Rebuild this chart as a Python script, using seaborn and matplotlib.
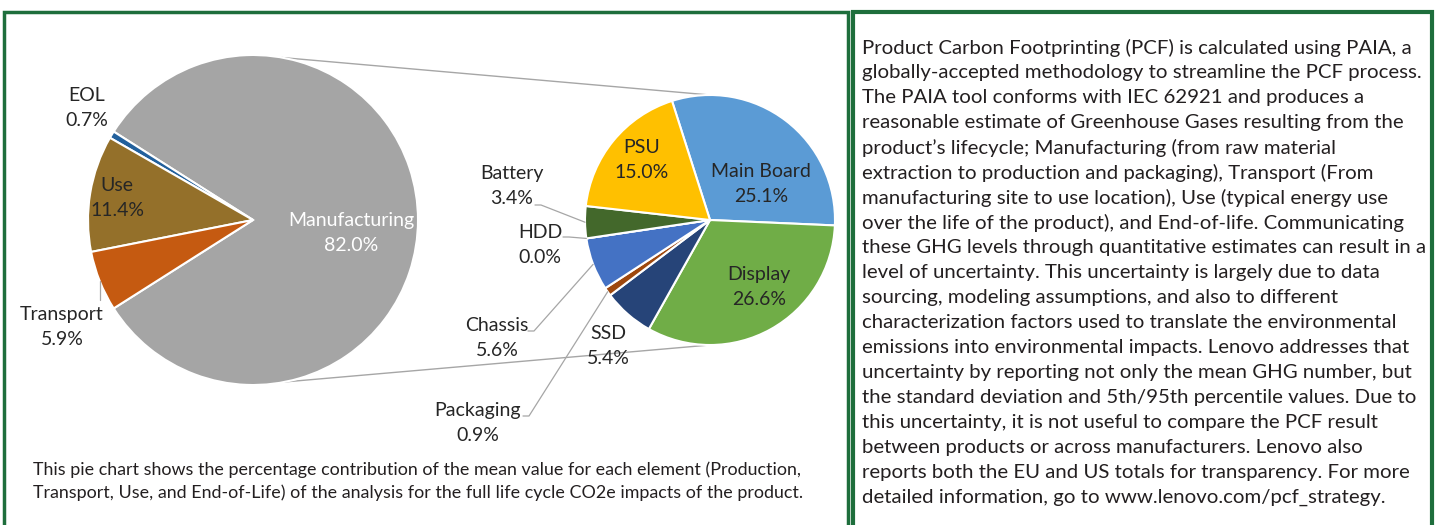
"""Lifecycle CO2e pie-of-pie with PCF note."""
import matplotlib
matplotlib.use('Agg')  # Non-interactive backend
import matplotlib.pyplot as plt
import numpy as np
import seaborn as sns

# share of total CO2e per life cycle stage (%)
stages = ["Manufacturing", "EOL", "Use", "Transport"]
stage_pct = [82.0, 0.7, 11.4, 5.9]
stage_colors = ["#A5A5A5", "#22609C", "#94702A", "#C55A11"]

# manufacturing broken down by part (% of total)
parts = ["Main Board", "Display", "SSD", "Packaging", "Chassis", "HDD", "Battery", "PSU"]
part_pct = [25.1, 26.6, 5.4, 0.9, 5.6, 0.0, 3.4, 15.0]
part_colors = ["#5B9BD5", "#70AD47", "#264478", "#9E480E", "#4472C4", "#636363", "#43682B", "#FFC000"]

caption = [
    "This pie chart shows the percentage contribution of the mean value for each element (Production,",
    "Transport, Use, and End-of-Life) of the analysis for the full life cycle CO2e impacts of the product.",
]
note = [
    "Product Carbon Footprinting (PCF) is calculated using PAIA, a",
    "globally-accepted methodology to streamline the PCF process.",
    "The PAIA tool conforms with IEC 62921 and produces a",
    "reasonable estimate of Greenhouse Gases resulting from the",
    "product\u2019s lifecycle; Manufacturing (from raw material",
    "extraction to production and packaging), Transport (From",
    "manufacturing site to use location), Use (typical energy use",
    "over the life of the product), and End-of-life. Communicating",
    "these GHG levels through quantitative estimates can result in a",
    "level of uncertainty. This uncertainty is largely due to data",
    "sourcing, modeling assumptions, and also to different",
    "characterization factors used to translate the environmental",
    "emissions into environmental impacts. Lenovo addresses that",
    "uncertainty by reporting not only the mean GHG number, but",
    "the standard deviation and 5th/95th percentile values. Due to",
    "this uncertainty, it is not useful to compare the PCF result",
    "between products or across manufacturers. Lenovo also",
    "reports both the EU and US totals for transparency. For more",
    "detailed information, go to www.lenovo.com/pcf_strategy.",
]

sns.set_theme(style="white")
plt.rcParams['font.family'] = ['Lato', 'DejaVu Sans']

W, H = 1435, 525
fig = plt.figure(figsize=(W / 100, H / 100), dpi=100)
ax = fig.add_axes([0, 0, 1, 1])

def P(x, y):
    # pixel (top-left origin) -> data coords
    return x, H - y

GREEN = "#1E6E3C"
LINE = "#A6A6A6"
TXT = "#262626"

# main pie
c1, r1 = (253, 220), 165
start1 = -stage_pct[0] / sum(stage_pct) * 180
w1, _ = ax.pie(stage_pct, colors=stage_colors, center=P(*c1), radius=r1,
               startangle=start1, counterclock=True, frame=True,
               wedgeprops=dict(edgecolor='white', linewidth=1.5))

# second pie (manufacturing detail)
c2, r2 = (710, 220), 125
w2, _ = ax.pie(part_pct, colors=part_colors, center=P(*c2), radius=r2,
               startangle=107.7, counterclock=False, frame=True,
               wedgeprops=dict(edgecolor='white', linewidth=1.5))

def on_circle(c, r, ang):
    a = np.deg2rad(ang)
    return c[0] + r * np.cos(a), H - c[1] + r * np.sin(a)

# connector lines between the pies
for a1, a2 in [(80, 90), (-79, -90)]:
    x0, y0 = on_circle(c1, r1, a1)
    x1, y1 = on_circle(c2, r2, a2)
    ax.plot([x0, x1], [y0, y1], color=LINE, lw=1.0, zorder=0)

def mid(w):
    return (w.theta1 + w.theta2) / 2

FS = 14
LS = 1.6
label_pos1 = {"EOL": (87, 108), "Use": (117, 198), "Transport": (62, 327), "Manufacturing": (351, 233)}
for name, val in zip(stages, stage_pct):
    x, y = label_pos1[name]
    col = 'white' if name == "Manufacturing" else TXT
    ax.text(*P(x, y), f"{name}\n{val:.1f}%", ha='center', va='center',
            fontsize=FS, color=col, linespacing=LS)

label_pos2 = {"Main Board": (761, 184), "Display": (759, 287), "SSD": (608, 346),
              "Packaging": (478, 423), "Chassis": (497, 338), "HDD": (540, 245),
              "Battery": (512, 186), "PSU": (642, 160)}
for name, val in zip(parts, part_pct):
    x, y = label_pos2[name]
    ax.text(*P(x, y), f"{name}\n{val:.1f}%", ha='center', va='center',
            fontsize=FS, color=TXT, linespacing=LS)

# leader lines
tr = w1[stages.index("Transport")]
x1, y1 = on_circle(c1, r1, mid(tr))
ax.plot([x1, x1], [y1, H - 300], color=LINE, lw=0.9)

leaders = {"Battery": (535, 205), "HDD": (563, 237), "Chassis": (528, 331), "Packaging": (523, 416)}
for name, (lx, ly) in leaders.items():
    w = w2[parts.index(name)]
    ang = w.theta1 if w.theta2 == w.theta1 else mid(w)
    ex, ey = on_circle(c2, r2, ang)
    ax.plot([lx, lx + 6, ex], [H - ly, H - ly, ey], color=LINE, lw=0.9)

# caption
for i, line in enumerate(caption):
    ax.text(*P(33, 470 + i * 23), line, ha='left', va='center', fontsize=12.9, color="#231F20")

# note on the right
for i, line in enumerate(note):
    ax.text(*P(862, 48 + i * 24.95), line, ha='left', va='center', fontsize=14.7, color="#231F20")

# frames
ax.plot([4, 4, 848, 848], [-5, H - 12, H - 12, -5], color=GREEN, lw=2.5, solid_joinstyle='miter')
ax.plot([852.5, 852.5, 1432, 1432], [-5, H - 12, H - 12, -5], color=GREEN, lw=3, solid_joinstyle='miter')

ax.set_xlim(0, W)
ax.set_ylim(0, H)
ax.set_aspect('auto')
ax.axis('off')

fig.savefig("out.png", dpi=100)
plt.close(fig)
